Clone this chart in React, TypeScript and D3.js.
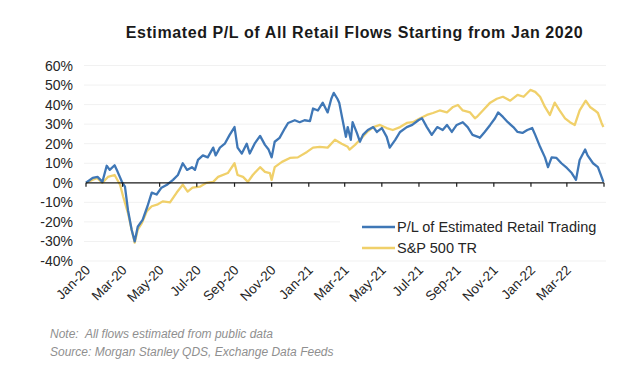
import React from "react";
import * as d3 from "d3";

const title = "Estimated P/L of All Retail Flows Starting from Jan 2020";
const yTicks = [60, 50, 40, 30, 20, 10, 0, -10, -20, -30, -40];
const xTickLabels = ["Jan-20","Mar-20","May-20","Jul-20","Sep-20","Nov-20","Jan-21","Mar-21","May-21","Jul-21","Sep-21","Nov-21","Jan-22","Mar-22"];
const xTickDates = ["2020-01-01","2020-03-01","2020-05-01","2020-07-01","2020-09-01","2020-11-01","2021-01-01","2021-03-01","2021-05-01","2021-07-01","2021-09-01","2021-11-01","2022-01-01","2022-03-01"];
const seriesNames = ["P/L of Estimated Retail Trading", "S&P 500 TR"];
const notes = ["Note:  All flows estimated from public data", "Source: Morgan Stanley QDS, Exchange Data Feeds"];

const retailDates = ["2020-01-01","2020-01-12","2020-01-20","2020-01-28","2020-02-04","2020-02-09","2020-02-17","2020-02-22","2020-02-29","2020-03-05","2020-03-10","2020-03-16","2020-03-21","2020-03-26","2020-04-03","2020-04-11","2020-04-18","2020-04-26","2020-05-04","2020-05-13","2020-05-23","2020-05-31","2020-06-08","2020-06-15","2020-06-23","2020-06-28","2020-07-03","2020-07-11","2020-07-19","2020-07-28","2020-08-01","2020-08-08","2020-08-16","2020-08-24","2020-09-01","2020-09-06","2020-09-13","2020-09-21","2020-09-26","2020-10-04","2020-10-13","2020-10-21","2020-10-27","2020-11-01","2020-11-06","2020-11-14","2020-11-23","2020-11-28","2020-12-09","2020-12-17","2020-12-25","2021-01-03","2021-01-08","2021-01-16","2021-01-24","2021-02-01","2021-02-07","2021-02-11","2021-02-17","2021-02-20","2021-02-25","2021-03-03","2021-03-06","2021-03-11","2021-03-14","2021-03-21","2021-03-26","2021-03-31","2021-04-08","2021-04-17","2021-04-23","2021-05-01","2021-05-09","2021-05-14","2021-05-23","2021-05-31","2021-06-11","2021-06-20","2021-06-30","2021-07-06","2021-07-14","2021-07-22","2021-07-31","2021-08-09","2021-08-16","2021-08-24","2021-09-01","2021-09-11","2021-09-19","2021-09-27","2021-10-06","2021-10-09","2021-10-17","2021-10-26","2021-11-03","2021-11-08","2021-11-16","2021-11-24","2021-12-03","2021-12-10","2021-12-18","2021-12-26","2022-01-03","2022-01-08","2022-01-16","2022-01-24","2022-01-29","2022-02-04","2022-02-12","2022-02-20","2022-03-01","2022-03-09","2022-03-16","2022-03-22","2022-03-31","2022-04-04","2022-04-13","2022-04-21","2022-04-27","2022-04-30"];
const retailPL = [0,2.5,3,0.5,8.7,6.6,9,5.6,0.5,-2,-14,-24,-30,-22.5,-19,-12,-5,-6,-2.5,-1,1.5,4,10,6.6,8,6.6,11.7,14,13,18,14,18,20,24.5,28.5,18,15,20,15,20,24,19.4,17,13,21,23,28,30.6,32,31,32,31.6,38,37,41,36,43,46,43,41,33,23.5,28.5,22,31,25.5,21,24.5,27,28.5,26,28,23.5,18,22,26,28.5,29.6,32,33,28.5,24.5,28.5,27,29.6,26,29.6,31,28.5,24.5,23.5,23,26,29.6,33,36,33.7,31,28.5,26,25.5,27,28,24.5,18.4,13,8,13,12.7,10,7.6,5,1.5,11.7,17,14,10,8,3,0.5];

const spxDates = ["2020-01-01","2020-01-19","2020-01-28","2020-02-06","2020-02-17","2020-02-26","2020-03-02","2020-03-10","2020-03-16","2020-03-21","2020-03-26","2020-04-02","2020-04-10","2020-04-18","2020-04-28","2020-05-06","2020-05-18","2020-05-29","2020-06-08","2020-06-16","2020-06-24","2020-07-06","2020-07-17","2020-07-28","2020-08-05","2020-08-21","2020-09-01","2020-09-06","2020-09-15","2020-09-23","2020-10-01","2020-10-13","2020-10-21","2020-10-29","2020-11-01","2020-11-06","2020-11-18","2020-12-01","2020-12-14","2020-12-29","2021-01-08","2021-01-19","2021-02-01","2021-02-13","2021-02-24","2021-03-06","2021-03-09","2021-03-18","2021-03-26","2021-04-07","2021-04-17","2021-04-28","2021-05-09","2021-05-19","2021-05-31","2021-06-11","2021-06-21","2021-07-03","2021-07-14","2021-07-24","2021-08-04","2021-08-16","2021-08-26","2021-09-03","2021-09-11","2021-09-23","2021-10-01","2021-10-04","2021-10-14","2021-10-26","2021-11-06","2021-11-16","2021-11-28","2021-12-10","2021-12-20","2021-12-31","2022-01-08","2022-01-16","2022-01-24","2022-02-01","2022-02-09","2022-02-17","2022-02-26","2022-03-06","2022-03-14","2022-03-22","2022-04-01","2022-04-08","2022-04-16","2022-04-21","2022-04-27","2022-04-30"];
const spxTR = [0,2.5,0,3,4,-1,-7,-15.5,-24,-30.6,-24,-20.5,-14.5,-12,-11,-9.5,-10,-5,-1,-4.5,-2.5,-2,0,0.5,3,5,10,4,3,0.5,4,8,5.6,5,1.5,8,10.7,12.7,13,15.8,18,18.4,18,22,20,18.4,17,19.4,22,26,28.5,29.6,28,27,28.5,30.6,31,33,34.7,35.7,37,36,38.8,39.8,37,36,33,33.7,37,41,43,44,42,45,44,47.5,46.5,44,38.8,34.7,41,37,33,31,29.6,37,42,38.8,37,35.7,30.6,28.5];

const W = 634, H = 382;
const BLUE = "#3f77b6";
const YELLOW = "#f0d06a";

export default function App() {
  const parse = d3.timeParse("%Y-%m-%d");
  const x = d3.scaleTime()
    .domain([parse("2020-01-01")!, parse("2022-05-01")!])
    .range([86, 604]);
  const y = d3.scaleLinear().domain([-40, 60]).range([261, 65.5]);

  const line = d3.line<[Date, number]>()
    .x(d => x(d[0]))
    .y(d => y(d[1]))
    .curve(d3.curveLinear);

  const retail: [Date, number][] = retailDates.map((d, i) => [parse(d)!, retailPL[i]]);
  const spx: [Date, number][] = spxDates.map((d, i) => [parse(d)!, spxTR[i]]);

  const font = "'Liberation Sans', Arial, sans-serif";

  return (
    <svg width={W} height={H} style={{ position: "absolute", left: 0, top: 0, background: "#fff" }} fontFamily={font}>
      <rect x={0} y={0} width={W} height={H} fill="#fff" />
      <text x={354.5} y={38} textAnchor="middle" fontWeight="bold" fontSize={16} letterSpacing={0.6} fill="#1a1a1a">{title}</text>
      {yTicks.map(t => (
        <g key={t}>
          {t !== 0 && <line x1={84} x2={606} y1={y(t)} y2={y(t)} stroke="#f1f1f1" strokeWidth={1} />}
          <text x={73} y={y(t) + 5} textAnchor="end" fontSize={14} fill="#262626">{t}%</text>
        </g>
      ))}
      <path d={line(spx) || ""} fill="none" stroke={YELLOW} strokeWidth={2.3} strokeLinejoin="round" />
      <path d={line(retail) || ""} fill="none" stroke={BLUE} strokeWidth={2.3} strokeLinejoin="round" />
      <line x1={86} x2={604} y1={y(0)} y2={y(0)} stroke="#1a1a1a" strokeWidth={1.3} />
      {xTickDates.map((d, i) => {
        const px = x(parse(d)!);
        return (
          <g key={d}>
            <line x1={px} x2={px} y1={y(0)} y2={y(0) + 4} stroke="#1a1a1a" strokeWidth={1.2} />
            <text transform={`translate(${px + 5},${271}) rotate(-45)`} textAnchor="end" fontSize={13.5} fill="#262626">{xTickLabels[i]}</text>
          </g>
        );
      })}
      <line x1={604} x2={604} y1={y(0)} y2={y(0) + 4} stroke="#1a1a1a" strokeWidth={1.2} />
      <rect x={340} y={213} width={270} height={46} fill="#fff" />
      <line x1={362} x2={395} y1={227} y2={227} stroke={BLUE} strokeWidth={2.5} />
      <text x={397} y={232} fontSize={14.5} fill="#262626">{seriesNames[0]}</text>
      <line x1={362} x2={395} y1={248} y2={248} stroke={YELLOW} strokeWidth={2.5} />
      <text x={397} y={253} fontSize={14.5} fill="#262626">{seriesNames[1]}</text>
      <text x={50} y={338} fontSize={12} fontStyle="italic" fill="#8f8f8f" style={{ whiteSpace: "pre" }}>{notes[0]}</text>
      <text x={50} y={356} fontSize={12} fontStyle="italic" fill="#8f8f8f">{notes[1]}</text>
    </svg>
  );
}
